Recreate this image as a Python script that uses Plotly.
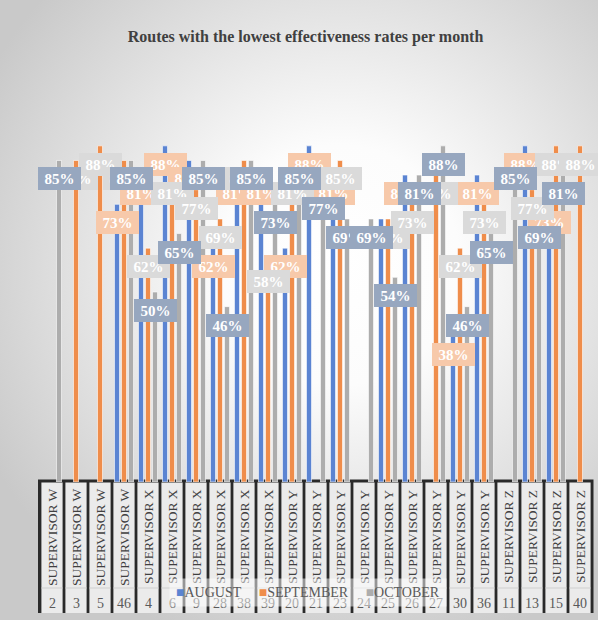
import base64
import plotly.graph_objects as go

# Routes (outer label) and their supervisor (inner label), left to right
routes = ["2", "3", "5", "46", "4", "6", "9", "28", "38", "39", "20", "21",
          "23", "24", "25", "26", "27", "30", "36", "11", "13", "15", "40"]
supervisors = (["SUPERVISOR W"] * 4 + ["SUPERVISOR X"] * 6 +
               ["SUPERVISOR Y"] * 9 + ["SUPERVISOR Z"] * 4)

# Effectiveness rate per route and month (None = route not listed that month)
august = [None, None, None, 0.7308, 0.8077, 0.8846, 0.8462, 0.6154, 0.8077, 0.8077,
          0.6154, 0.8846, 0.8077, None, 0.6923, 0.8077, None, 0.3846, 0.8077,
          None, 0.8846, 0.7308, None]
september = [None, 0.8462, 0.8846, 0.8462, 0.6154, 0.8077, 0.7692, 0.6923, 0.8462, 0.5769,
             0.8077, None, 0.8462, None, 0.6923, 0.7308, 0.8077, 0.6154, 0.7308,
             None, 0.7692, 0.8846, 0.8846]
october = [0.8462, None, None, 0.8462, 0.5, 0.6538, 0.8462, 0.4615, 0.8462, 0.7308,
           0.8462, 0.7692, 0.6923, 0.6923, 0.5385, 0.8077, 0.8846, 0.4615, 0.6538,
           0.8462, 0.6923, 0.8077, None]

months = ["AUGUST", "SEPTEMBER", "OCTOBER"]
bar_colors = ["#5B84D2", "#EF8D4B", "#ADADAD"]
label_fills = ["#F7C9AA", "#DADADA", "#97A7BF"]

W, H = 598, 620
M_L, M_R, M_T, M_B = 40, 6, 102, 138
PLOT_W = W - M_L - M_R
PLOT_H = H - M_T - M_B
BARGAP = 0.125
BARGROUPGAP = 0.28
SERIF = "Liberation Serif"

positions = list(range(len(routes)))


def paper_y(row):
    """Pixel row of the page -> paper y coordinate."""
    return (H - M_B - row) / PLOT_H


def paper_x(col):
    """Pixel column of the page -> paper x coordinate."""
    return (col - M_L) / PLOT_W


# width of one bar slot inside a category group, in axis units
slot = (1 - BARGAP) / 3

fig = go.Figure()
for name, vals, col in zip(months, [august, september, october], bar_colors):
    fig.add_trace(go.Bar(
        x=positions, y=vals, name=name, showlegend=False,
        marker=dict(color=col, line=dict(color="rgba(255,255,255,0.6)", width=1)),
        hoverinfo="skip",
    ))

annotations = []
# data labels: boxes just inside the top end of every bar
for k, (vals, fill) in enumerate(zip([august, september, october], label_fills)):
    for i, v in enumerate(vals):
        if v is None:
            continue
        annotations.append(dict(
            x=positions[i] + (k - 1) * slot, y=v, xref="x", yref="y",
            text=f"<b>{round(v * 100)}%</b>", showarrow=False,
            xanchor="center", yanchor="top", yshift=-7,
            width=39, height=19, borderpad=2, borderwidth=0,
            bgcolor=fill,
            font=dict(family=SERIF, size=15, color="white"),
        ))

# two-level category labels below the plot
for i, (r, s) in enumerate(zip(routes, supervisors)):
    annotations.append(dict(
        x=positions[i], y=paper_y(537), xref="x", yref="paper", text=s,
        showarrow=False, textangle=-90, xanchor="center", yanchor="middle",
        font=dict(family=SERIF, size=13.5, color="#404040"),
    ))
    annotations.append(dict(
        x=positions[i], y=paper_y(603), xref="x", yref="paper", text=r,
        showarrow=False, xanchor="center", yanchor="middle",
        font=dict(family=SERIF, size=14, color="#595959"),
    ))

# legend row drawn over the label block
gap = "\u00a0" * 5
legend_text = gap.join(
    f"<span style='color:{c}'>■</span>{m}" for m, c in zip(months, bar_colors)
)
annotations.append(dict(
    x=paper_x(308), y=paper_y(592), xref="paper", yref="paper",
    text=legend_text, showarrow=False, xanchor="center", yanchor="middle",
    bgcolor="rgba(255,255,255,0.5)", borderpad=6,
    font=dict(family=SERIF, size=14, color="#595959"),
))

shapes = [dict(
    type="rect", xref="paper", yref="paper", layer="below",
    x0=paper_x(38), x1=paper_x(593.5), y0=paper_y(613), y1=paper_y(479.5),
    fillcolor="#2a2a2a", line=dict(width=0),
)]
cell_gap = 1.4 / (PLOT_W / len(routes))
for i in positions:
    shapes.append(dict(
        type="rect", xref="x", yref="paper", layer="below",
        x0=i - 0.5 + cell_gap, x1=i + 0.5 - cell_gap,
        y0=paper_y(613), y1=paper_y(482.5),
        fillcolor="#ebebeb", line=dict(width=0),
    ))
    shapes.append(dict(
        type="line", xref="x", yref="paper", layer="below",
        x0=i - 0.5 + cell_gap, x1=i + 0.5 - cell_gap,
        y0=paper_y(588), y1=paper_y(588),
        line=dict(color="#cfcfcf", width=1),
    ))

# soft radial glow behind the whole chart
svg = (
    f"<svg xmlns='http://www.w3.org/2000/svg' width='{W}' height='{H}'>"
    "<defs><radialGradient id='g' gradientUnits='userSpaceOnUse' "
    "cx='340' cy='265' r='400'>"
    "<stop offset='0' stop-color='#ffffff'/>"
    "<stop offset='0.3' stop-color='#fcfcfc'/>"
    "<stop offset='1' stop-color='#c9c9c9'/>"
    "</radialGradient></defs>"
    f"<rect x='0' y='0' width='{W}' height='{H}' fill='url(#g)'/></svg>"
)
bg_src = "data:image/svg+xml;base64," + base64.b64encode(svg.encode()).decode()

fig.update_layout(
    width=W, height=H,
    margin=dict(l=M_L, r=M_R, t=M_T, b=M_B, pad=0, autoexpand=False),
    paper_bgcolor="white", plot_bgcolor="rgba(0,0,0,0)",
    barmode="group", bargap=BARGAP, bargroupgap=BARGROUPGAP,
    title=dict(
        text="<b>Routes with the lowest effectiveness rates per month</b>",
        x=305.5 / W, xanchor="center", y=1 - 36 / H, yanchor="middle",
        font=dict(family=SERIF, size=16, color="#404040"),
    ),
    xaxis=dict(range=[-0.5, len(routes) - 0.5], showticklabels=False,
               showgrid=False, zeroline=False, showline=False),
    yaxis=dict(range=[0, 1], visible=False),
    showlegend=False,
    annotations=annotations,
    shapes=shapes,
    images=[dict(
        source=bg_src, xref="paper", yref="paper",
        x=paper_x(0), y=paper_y(0), sizex=W / PLOT_W, sizey=H / PLOT_H,
        xanchor="left", yanchor="top", sizing="stretch", layer="below",
    )],
)

fig.write_html("out.html")
